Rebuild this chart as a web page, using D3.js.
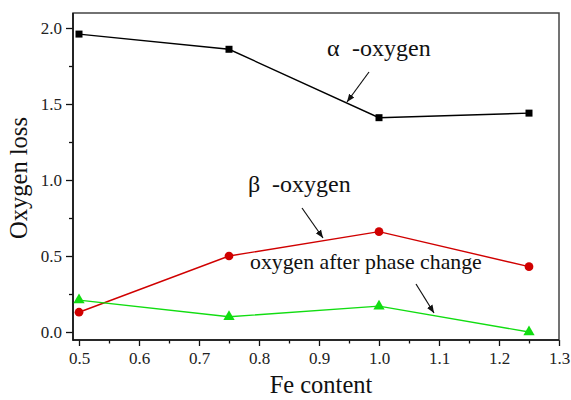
<!DOCTYPE html>
<html><head><meta charset="utf-8">
<script src="https://cdn.jsdelivr.net/npm/d3@7"></script>
<style>body{margin:0;background:#fff}svg{display:block}text{font-family:"Liberation Serif","Times New Roman",serif}</style>
</head><body>
<svg id="c" width="571" height="400"></svg>
<script>
const feContent = [0.5, 0.75, 1.0, 1.25];
const alphaOxygen = [1.96, 1.86, 1.41, 1.44];
const betaOxygen = [0.13, 0.50, 0.66, 0.43];
const afterPhase = [0.21, 0.10, 0.17, 0.00];
const xTicks = [0.5, 0.6, 0.7, 0.8, 0.9, 1.0, 1.1, 1.2, 1.3];
const yTicks = [0.0, 0.5, 1.0, 1.5, 2.0];

const svg = d3.select("#c");
const L = 73, R = 559, T = 13, B = 340;
const x = d3.scaleLinear().domain([0.49, 1.3]).range([L, R]);
const y = d3.scaleLinear().domain([-0.0526, 2.0987]).range([B, T]);
const serif = '"Liberation Serif", "Times New Roman", serif';

const xMinor = d3.range(0.55, 1.3, 0.1);
const yMinor = [0.25, 0.75, 1.25, 1.75];

const gx = svg.append("g").attr("transform", `translate(0,${B})`)
  .call(d3.axisBottom(x).tickValues(xTicks).tickFormat(d3.format(".1f")).tickSize(6).tickPadding(6));
const gxm = svg.append("g").attr("transform", `translate(0,${B})`)
  .call(d3.axisBottom(x).tickValues(xMinor).tickFormat("").tickSize(3.5));
const gy = svg.append("g").attr("transform", `translate(${L},0)`)
  .call(d3.axisLeft(y).tickValues(yTicks).tickFormat(d3.format(".1f")).tickSize(7).tickPadding(4));
const gym = svg.append("g").attr("transform", `translate(${L},0)`)
  .call(d3.axisLeft(y).tickValues(yMinor).tickFormat("").tickSize(4));
[gx, gxm, gy, gym].forEach(g => {
  g.attr("font-family", serif);
  g.select(".domain").remove();
  g.selectAll("line").attr("stroke", "#111").attr("stroke-width", 1.3);
  g.selectAll("text").attr("font-size", 17).attr("fill", "#222").style("font-family", serif);
});

// frame
svg.append("rect").attr("x", L).attr("y", T).attr("width", R - L).attr("height", B - T)
  .attr("fill", "none").attr("stroke", "#444").attr("stroke-width", 1.5);
svg.append("line").attr("x1", L).attr("x2", L).attr("y1", T).attr("y2", B + 0.7).attr("stroke", "#111").attr("stroke-width", 1.6);
svg.append("line").attr("x1", L).attr("x2", R).attr("y1", B).attr("y2", B).attr("stroke", "#111").attr("stroke-width", 1.6);

const line = d3.line().x(d => x(d[0])).y(d => y(d[1]));
function series(vals, color, shape, size) {
  const pts = feContent.map((f, i) => [f, vals[i]]);
  svg.append("path").datum(pts).attr("d", line).attr("fill", "none")
    .attr("stroke", color).attr("stroke-width", 1.4);
  svg.selectAll(null).data(pts).enter().append("path")
    .attr("transform", d => `translate(${x(d[0])},${y(d[1])})`)
    .attr("d", d3.symbol().type(shape).size(size))
    .attr("fill", color);
}
series(alphaOxygen, "#000", d3.symbolSquare, 49);
series(betaOxygen, "#d00000", d3.symbolCircle, 60);
series(afterPhase, "#11dd11", d3.symbolTriangle, 55);

// axis titles
svg.append("text").attr("x", 321).attr("y", 393).attr("text-anchor", "middle")
  .attr("font-size", 24.5).attr("fill", "#111").style("font-family", serif).text("Fe content");
svg.append("text").attr("transform", "translate(27,178) rotate(-90)").attr("text-anchor", "middle")
  .attr("font-size", 24.5).attr("fill", "#111").style("font-family", serif).text("Oxygen loss");

// annotations
function greek(g, rest, x0, x1, yb) {
  const t = svg.append("text").attr("y", yb).attr("font-size", 24).attr("fill", "#111").style("font-family", serif);
  t.append("tspan").attr("x", x0).text(g);
  t.append("tspan").attr("x", x1).text(rest);
}
greek("α", "-oxygen", 327, 352, 56);
greek("β", "-oxygen", 248, 272, 192);
svg.append("text").attr("x", 250).attr("y", 269).attr("font-size", 21.8).attr("fill", "#111")
  .style("font-family", serif).text("oxygen after phase change");

svg.append("defs").append("marker").attr("id", "ah").attr("viewBox", "0 0 10 10")
  .attr("refX", 10).attr("refY", 5).attr("markerWidth", 8).attr("markerHeight", 8)
  .attr("markerUnits", "userSpaceOnUse").attr("orient", "auto")
  .append("path").attr("d", "M0,1 L10,5 L0,9 Z").attr("fill", "#111");
const arrows = [[369, 72, 347, 102], [302, 208, 323, 238], [416, 284, 434, 313]];
arrows.forEach(a => svg.append("line").attr("x1", a[0]).attr("y1", a[1]).attr("x2", a[2]).attr("y2", a[3])
  .attr("stroke", "#111").attr("stroke-width", 1.2).attr("marker-end", "url(#ah)"));
</script>
</body></html>
